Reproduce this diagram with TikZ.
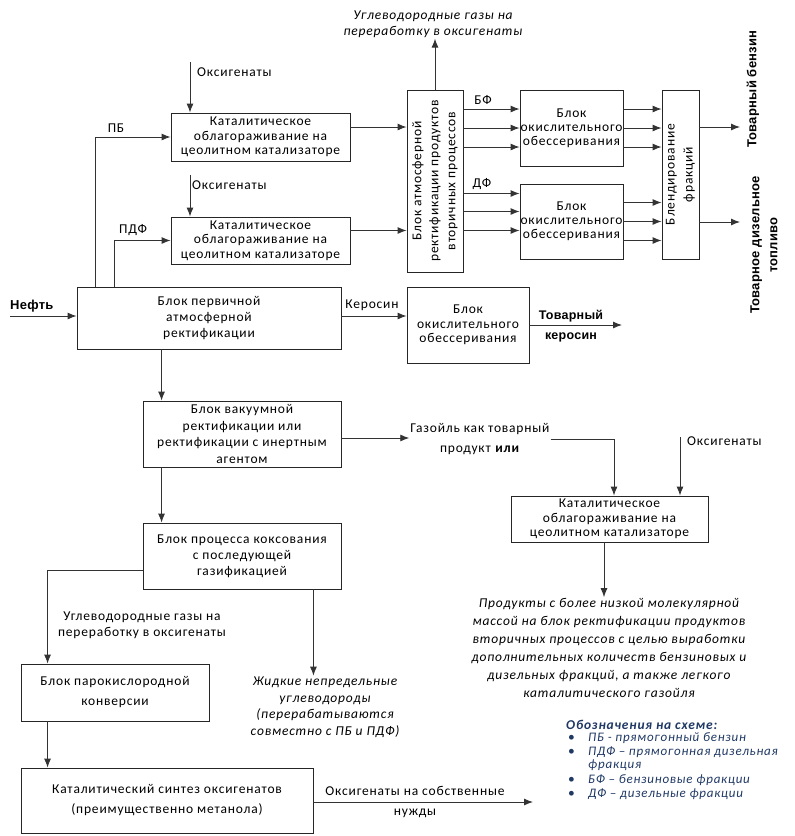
\documentclass[tikz,border=0pt]{standalone}
\usepackage{fontspec}
\setmainfont{Carlito}[LetterSpace=6]
\newfontfamily\heavyfont{Liberation Sans}[LetterSpace=2]
\usetikzlibrary{arrows.meta}
\definecolor{legendblue}{HTML}{1F3864}
\newcommand{\fs}[1]{\fontsize{13.5}{#1}\selectfont}

\begin{document}
\begin{tikzpicture}[x=1pt,y=-1pt,
  box/.style={draw=black!85,line width=0.9pt,align=center,inner xsep=0pt,inner ysep=1pt,font=\fs{15}},
  flow/.style={draw=black!80,line width=0.9pt,-{Latex[length=9pt,width=7pt]}},
  lbl/.style={inner sep=1pt,align=center,font=\fs{15}},
  note/.style={inner sep=1pt,align=center,font=\fs{16.5}\itshape},
  prod/.style={inner sep=1pt,align=center,font=\heavyfont\bfseries\fontsize{13}{18}\selectfont},
  legtext/.style={anchor=base west,inner sep=0pt,font=\fontsize{13}{13}\selectfont\itshape,text=legendblue}
]
\useasboundingbox (0,0) rectangle (795,836);

% boxes
\node[box,minimum width=179pt,minimum height=48pt,font=\fs{14.5}] (cat1) at (260.5,137) {Каталитическое\\облагораживание на\\цеолитном катализаторе};
\node[box,minimum width=179pt,minimum height=47pt,font=\fs{14.5}] (cat2) at (260.5,240.5) {Каталитическое\\облагораживание на\\цеолитном катализаторе};
\node[box,minimum width=264pt,minimum height=62pt,font=\fs{16}] (atm) at (209,318) {Блок первичной\\атмосферной\\ректификации};
\node[box,minimum width=122pt,minimum height=76pt,font=\fs{14.5}] (kero) at (468,325) {Блок\\окислительного\\обессеривания};
\node[box,minimum width=198pt,minimum height=66pt,font=\fs{16.5}] (vac) at (242,434) {Блок вакуумной\\ректификации или\\ректификации с инертным\\агентом};
\node[box,minimum width=197pt,minimum height=46pt,font=\fs{14.5}] (cat3) at (609.5,519) {Каталитическое\\облагораживание на\\цеолитном катализаторе};
\node[box,minimum width=198pt,minimum height=66pt,font=\fs{16}] (coke) at (242,556) {Блок процесса коксования\\с последующей\\газификацией};
\node[box,minimum width=188pt,minimum height=57pt,font=\fs{20}] (steam) at (115,692.5) {Блок парокислородной\\конверсии};
\node[box,minimum width=292pt,minimum height=65pt,font=\fs{20}] (synth) at (167,800.5) {Каталитический синтез оксигенатов\\(преимущественно метанола)};
\node[box,minimum width=103pt,minimum height=76pt,font=\fs{14}] (ox1) at (571.5,128) {Блок\\окислительного\\обессеривания};
\node[box,minimum width=103pt,minimum height=75pt,font=\fs{14}] (ox2) at (571.5,221.5) {Блок\\окислительного\\обессеривания};
\node[box,minimum width=56pt,minimum height=182pt] (secrect) at (435,181) {};
\node[lbl,rotate=90,font=\fs{17}] (secrect-t) at (secrect) {Блок атмосферной\\ректификации продуктов\\вторичных процессов};
\node[box,minimum width=37pt,minimum height=169pt] (blend) at (680.5,174.5) {};
\node[lbl,rotate=90,font=\fs{18}] (blend-t) at (blend) {Блендирование\\фракций};

% labels
\node[lbl,anchor=west] (oxy1) at (196,72) {Оксигенаты};
\node[lbl,anchor=west] (oxy2) at (191,185) {Оксигенаты};
\node[lbl,anchor=west] (oxy3) at (686,441) {Оксигенаты};
\node[lbl] (pb) at (116,128) {ПБ};
\node[lbl] (pdf) at (133,230) {ПДФ};
\node[lbl] (bf) at (483,100) {БФ};
\node[lbl] (df) at (482,184) {ДФ};
\node[lbl] (kerlbl) at (372,305) {Керосин};
\node[prod,anchor=west] (oil) at (9,306) {Нефть};
\node[prod,font=\heavyfont\bfseries\fontsize{12.5}{20}\selectfont] (kername) at (571,326) {Товарный\\керосин};
\node[prod,rotate=90] (gasname) at (753,89) {Товарный бензин};
\node[prod,rotate=90] (dieselname) at (764,245) {Товарное дизельное\\топливо};
\node[note,font=\fs{16}\itshape] (hcgas) at (433,24) {Углеводородные газы на\\переработку в оксигенаты};
\node[lbl,font=\fs{20}] (gasoil) at (480,439) {Газойль как товарный\\продукт \textbf{или}};
\node[note,font=\fs{18}\itshape] (lowmol) at (609,648) {Продукты с более низкой молекулярной\\массой на блок ректификации продуктов\\вторичных процессов с целью выработки\\дополнительных количеств бензиновых и\\дизельных фракций, а также легкого\\каталитического газойля};
\node[lbl,font=\fs{16}] (hcgas2) at (142,625) {Углеводородные газы на\\переработку в оксигенаты};
\node[note] (liquid) at (325,707) {Жидкие непредельные\\углеводороды\\(перерабатываются\\совместно с ПБ и ПДФ)};
\node[lbl,font=\fs{20}] (selflbl) at (415,802) {Оксигенаты на собственные\\нужды};

% legend
\node[anchor=base west,inner sep=0pt,font=\fs{14}\bfseries\itshape,text=legendblue] (legtitle) at (566,729) {Обозначения на схеме:};
\foreach \yy/\txt [count=\i] in {741/{ПБ - прямогонный бензин},755/{ПДФ – прямогонная дизельная},783/{БФ – бензиновые фракции},797/{ДФ – дизельные фракции}} {
  \node[anchor=base west,inner sep=0pt,font=\fs{11},text=legendblue] (legbul\i) at (568,\yy) {•};
  \node[legtext] (legitem\i) at (588,\yy) {\txt};
}
\node[legtext] (legitem2b) at (588,768) {фракция};

% upper part
\coordinate (oxy1in) at (190,62);
\draw[flow] (oxy1in) -- (oxy1in |- cat1.north);
\coordinate (oxy2in) at (190,175);
\draw[flow] (oxy2in) -- (oxy2in |- cat2.north);
\coordinate (pbup) at ([xshift=19pt]atm.north west);
\draw[flow] (pbup) |- (cat1.west);
\coordinate (pdfup) at ([xshift=38pt]atm.north west);
\draw[flow] (pdfup) |- (cat2.west);
\coordinate (c1o) at ([yshift=10pt]cat1.east);
\draw[flow] (c1o) -- (c1o -| secrect.west);
\coordinate (c2o) at ([yshift=10pt]cat2.east);
\draw[flow] (c2o) -- (c2o -| secrect.west);
\draw[flow] (secrect.north) -- (secrect.north |- hcgas.south);
\foreach \dy [count=\i] in {19,0,-19} {
  \coordinate (bfin\i) at ([yshift=\dy pt]ox1.west);
  \draw[flow] (bfin\i -| secrect.east) -- (bfin\i);
  \coordinate (bfout\i) at ([yshift=\dy pt]ox1.east);
  \draw[flow] (bfout\i) -- (bfout\i -| blend.west);
  \coordinate (dfout\i) at ([yshift=\dy pt]ox2.east);
  \draw[flow] (dfout\i) -- (dfout\i -| blend.west);
}
\foreach \dy [count=\i] in {28,10,-9} {
  \coordinate (dfin\i) at ([yshift=\dy pt]ox2.west);
  \draw[flow] (dfin\i -| secrect.east) -- (dfin\i);
}
\coordinate (gasout) at (740,127);
\draw[flow] (gasout -| blend.east) -- (gasout);
\coordinate (dieselout) at (740,222);
\draw[flow] (dieselout -| blend.east) -- (dieselout);

% middle part
\coordinate (oilin) at (10,316);
\draw[flow] (oilin) -- (oilin -| atm.west);
\coordinate (kerin) at ([yshift=2pt]atm.east);
\draw[flow] (kerin) -- (kerin -| kero.west);
\coordinate (kerout) at (622,325);
\draw[flow] (kero.east) -- (kerout);
\coordinate (vtop) at ([xshift=19pt]vac.north west);
\draw[flow] (vtop |- atm.south) -- (vtop);
\coordinate (vout) at ([yshift=-4pt]vac.east);
\draw[flow] (vout) -- (vout -| gasoil.west);
\coordinate (cat3in) at ([xshift=4.5pt]cat3.north);
\draw[flow] (gasoil.east) -| (cat3in);
\coordinate (oxy3in) at (680,437);
\draw[flow] (oxy3in) -- (oxy3in |- cat3.north);
\coordinate (cat3out) at ([xshift=-5.5pt]cat3.south);
\draw[flow] (cat3out) -- (cat3out |- lowmol.north);

% lower part
\coordinate (ctop) at ([xshift=19pt]coke.north west);
\draw[flow] (ctop |- vac.south) -- (ctop);
\coordinate (cleft) at ([yshift=-14pt]coke.west);
\coordinate (stop) at ([xshift=27pt]steam.north west);
\draw[flow] (cleft) -| (stop);
\coordinate (cright) at ([xshift=-28pt]coke.south east);
\draw[flow] (cright) -- (cright |- liquid.north);
\draw[flow] (stop |- steam.south) -- (stop |- synth.north);
\coordinate (selfout) at (533,802);
\draw[flow] ([yshift=-1.5pt]synth.east) -- (selfout);
\end{tikzpicture}
\end{document}
